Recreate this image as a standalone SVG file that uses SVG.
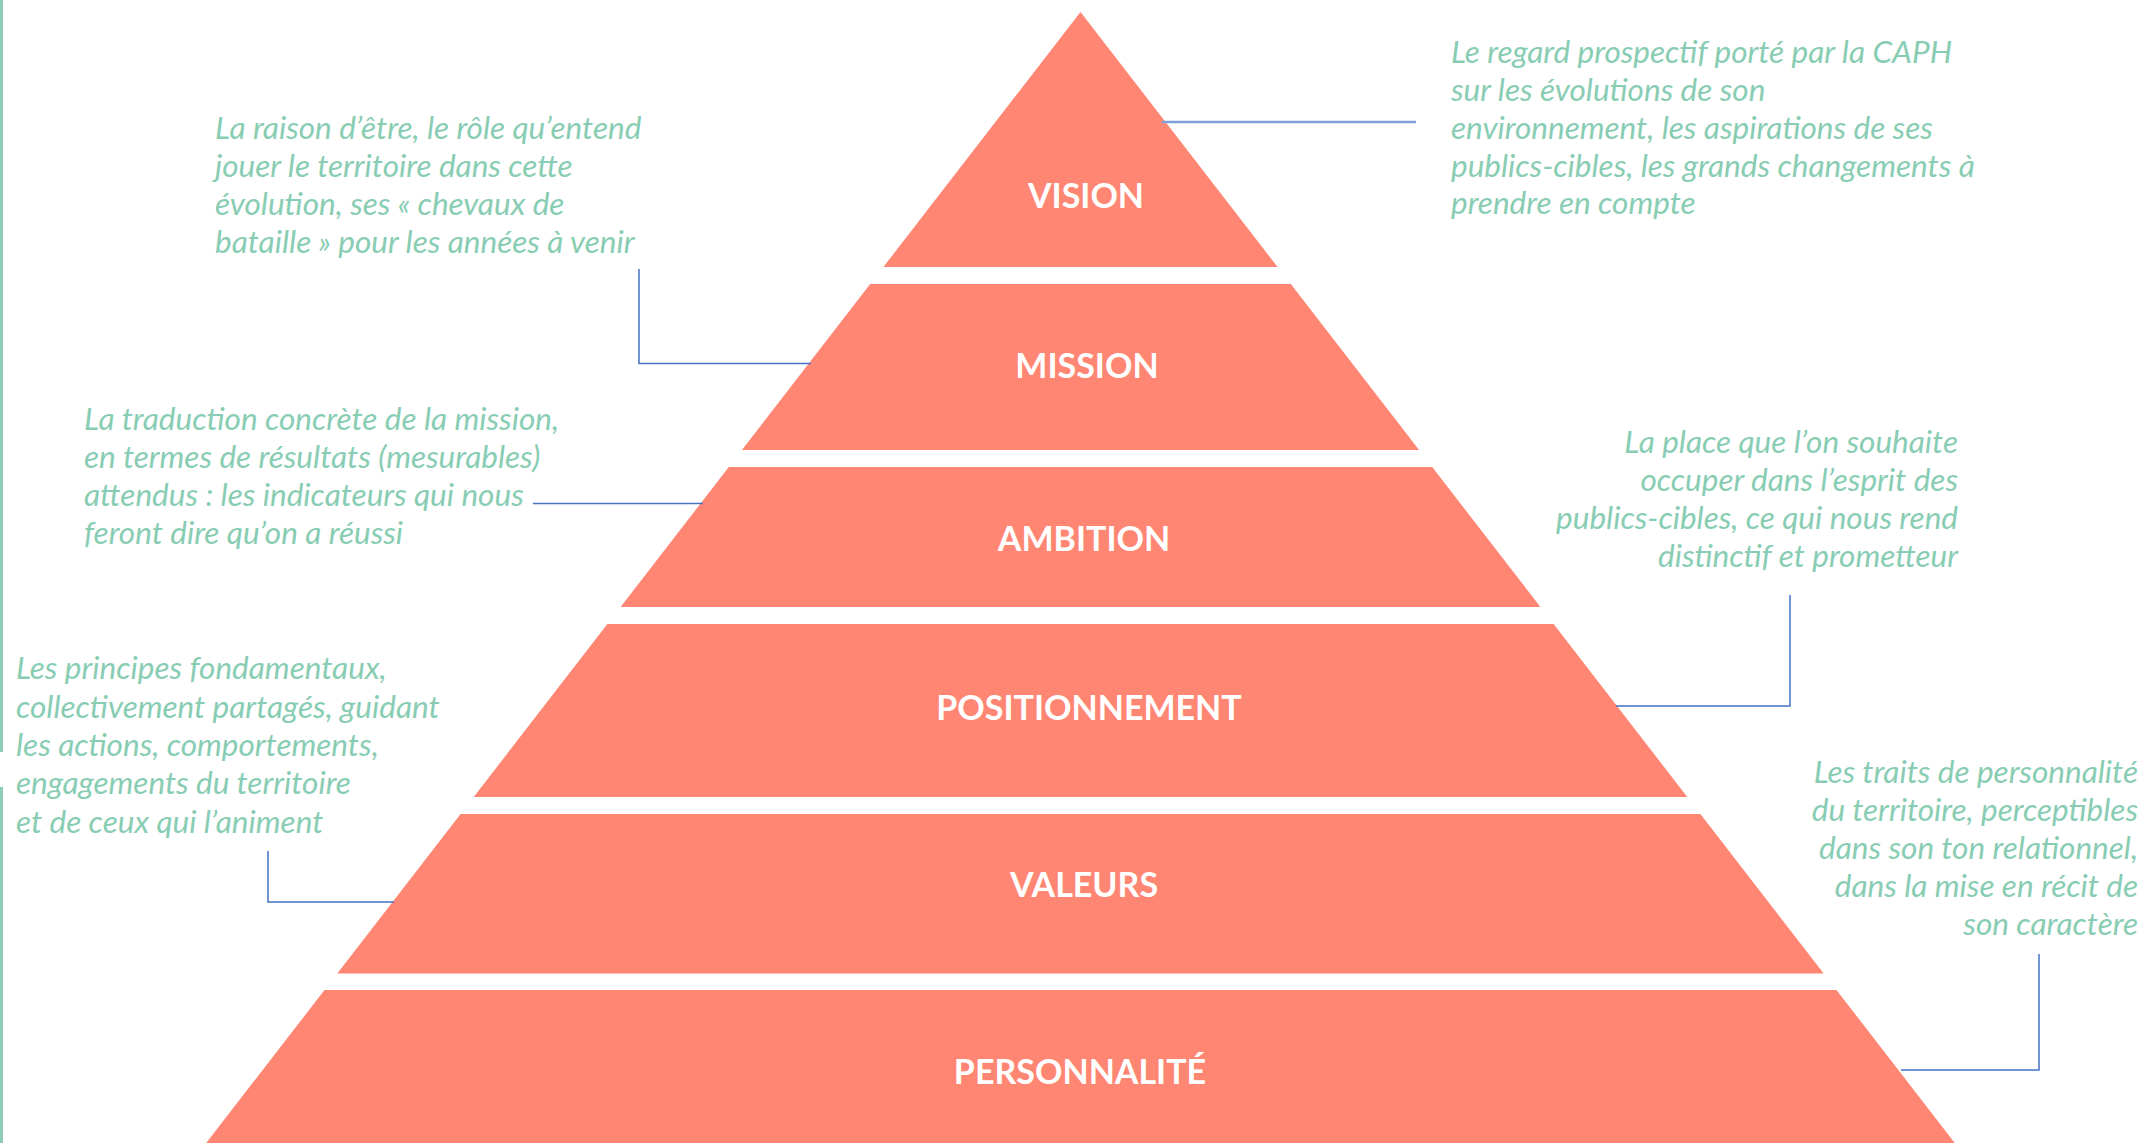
<svg xmlns="http://www.w3.org/2000/svg" width="2144" height="1143" viewBox="0 0 2144 1143">
<style>
.band{fill:#FF8673;}
.lbl{font-family:Lato,"Open Sans",sans-serif;font-weight:bold;font-size:34px;fill:#FFFFFF;text-anchor:middle;}
.desc{font-family:Lato,"Open Sans",sans-serif;font-style:italic;font-size:31.5px;fill:#88CDB3;}
.r{text-anchor:end;}
.conn{fill:none;stroke:#4472C4;stroke-width:1.5;}
</style>
<rect width="2144" height="1143" fill="#FFFFFF"/>
<g id="frame">
<line x1="1.5" y1="0" x2="1.5" y2="752" stroke="#8ECBB8" stroke-width="3"/>
<line x1="1.5" y1="787" x2="1.5" y2="1143" stroke="#8ECBB8" stroke-width="3"/>
</g>
<g id="vision">
<polygon class="band" points="1080.5,12 1277.6,267 883.4,267"/>
<text class="lbl" x="1086" y="208">VISION</text>
</g>
<g id="mission">
<polygon class="band" points="870.2,284 1290.8,284 1419.1,450 741.9,450"/>
<text class="lbl" x="1087" y="378">MISSION</text>
</g>
<g id="ambition">
<polygon class="band" points="728.8,467 1432.2,467 1540.4,607 620.6,607"/>
<text class="lbl" x="1084" y="551">AMBITION</text>
</g>
<g id="positionnement">
<polygon class="band" points="607.4,624 1553.6,624 1687.3,797 473.7,797"/>
<text class="lbl" x="1089" y="720">POSITIONNEMENT</text>
</g>
<g id="valeurs">
<polygon class="band" points="460.6,814 1700.4,814 1823.7,973.5 337.3,973.5"/>
<text class="lbl" x="1084" y="897">VALEURS</text>
</g>
<g id="personnalite">
<polygon class="band" points="324.5,990 1836.5,990 1954.8,1143 206.2,1143"/>
<text class="lbl" x="1080" y="1084">PERSONNALITÉ</text>
</g>
<g id="desc-vision">
<text class="desc" x="1451" y="63">Le regard prospectif porté par la CAPH</text>
<text class="desc" x="1451" y="101">sur les évolutions de son</text>
<text class="desc" x="1451" y="139">environnement, les aspirations de ses</text>
<text class="desc" x="1451" y="177">publics-cibles, les grands changements à</text>
<text class="desc" x="1451" y="214">prendre en compte</text>
</g>
<g id="desc-mission">
<text class="desc" x="215" y="139">La raison d’être, le rôle qu’entend</text>
<text class="desc" x="215" y="177">jouer le territoire dans cette</text>
<text class="desc" x="215" y="215">évolution, ses « chevaux de</text>
<text class="desc" x="215" y="253">bataille » pour les années à venir</text>
</g>
<g id="desc-ambition">
<text class="desc" x="84" y="430">La traduction concrète de la mission,</text>
<text class="desc" x="84" y="468">en termes de résultats (mesurables)</text>
<text class="desc" x="84" y="506">attendus : les indicateurs qui nous</text>
<text class="desc" x="84" y="544">feront dire qu’on a réussi</text>
</g>
<g id="desc-positionnement">
<text class="desc r" x="1958" y="453">La place que l’on souhaite</text>
<text class="desc r" x="1958" y="491">occuper dans l’esprit des</text>
<text class="desc r" x="1958" y="529">publics-cibles, ce qui nous rend</text>
<text class="desc r" x="1958" y="567">distinctif et prometteur</text>
</g>
<g id="desc-valeurs">
<text class="desc" x="16" y="679">Les principes fondamentaux,</text>
<text class="desc" x="16" y="718">collectivement partagés, guidant</text>
<text class="desc" x="16" y="756">les actions, comportements,</text>
<text class="desc" x="16" y="794">engagements du territoire</text>
<text class="desc" x="16" y="833">et de ceux qui l’animent</text>
</g>
<g id="desc-personnalite">
<text class="desc r" x="2138" y="783">Les traits de personnalité</text>
<text class="desc r" x="2138" y="821">du territoire, perceptibles</text>
<text class="desc r" x="2138" y="859">dans son ton relationnel,</text>
<text class="desc r" x="2138" y="897">dans la mise en récit de</text>
<text class="desc r" x="2138" y="935">son caractère</text>
</g>
<g id="connectors">
<line x1="1162" y1="122" x2="1416" y2="122" stroke="#7F9FDA" stroke-width="2.5"/>
<polyline class="conn" points="639,269 639,363.5 811,363.5"/>
<line class="conn" x1="533" y1="503.5" x2="703" y2="503.5"/>
<polyline class="conn" points="1616,706 1790,706 1790,595"/>
<polyline class="conn" points="268,851 268,902 394,902"/>
<polyline class="conn" points="1901,1070 2039,1070 2039,954"/>
</g>
</svg>
